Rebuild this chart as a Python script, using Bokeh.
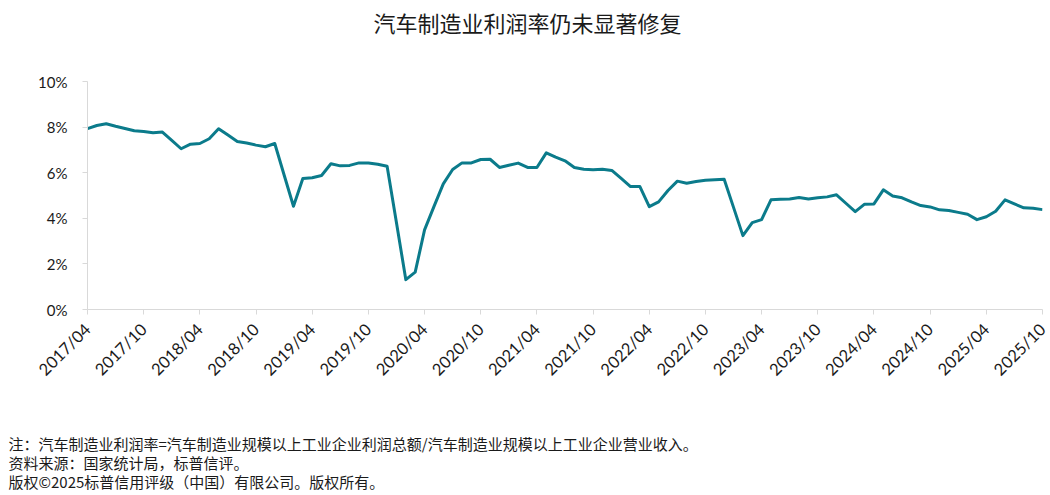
import math
from bokeh.plotting import figure
from bokeh.models import Title, FixedTicker, Range1d
from bokeh.embed import file_html
from bokeh.resources import INLINE

start_year, start_month = 2017, 4
profit_margin = [
    7.93, 8.07, 8.15, 8.04, 7.94, 7.84, 7.81, 7.75, 7.78, 7.42,
    7.05, 7.25, 7.28, 7.49, 7.93, 7.65, 7.37, 7.30, 7.21, 7.14,
    7.28, 5.90, 4.53, 5.75, 5.78, 5.88, 6.39, 6.30, 6.32, 6.43,
    6.43, 6.37, 6.28, 3.80, 1.31, 1.64, 3.49, 4.51, 5.51, 6.14,
    6.43, 6.43, 6.58, 6.59, 6.23, 6.33, 6.42, 6.23, 6.23, 6.87,
    6.68, 6.52, 6.23, 6.15, 6.13, 6.15, 6.10, 5.75, 5.39, 5.39,
    4.51, 4.72, 5.22, 5.63, 5.54, 5.61, 5.67, 5.69, 5.71, 4.48,
    3.24, 3.81, 3.94, 4.81, 4.84, 4.85, 4.91, 4.85, 4.90, 4.94,
    5.03, 4.66, 4.29, 4.62, 4.63, 5.25, 4.98, 4.90, 4.72, 4.56,
    4.50, 4.37, 4.34, 4.26, 4.18, 3.94, 4.07, 4.31, 4.81, 4.63,
    4.46, 4.44, 4.38,
]
month_labels = []
for i in range(len(profit_margin)):
    m = start_month - 1 + i
    month_labels.append(f"{start_year + m // 12}/{m % 12 + 1:02d}")
y_ticks = [0, 2, 4, 6, 8, 10]

title_text = "汽车制造业利润率仍未显著修复"
notes = [
    "注：汽车制造业利润率=汽车制造业规模以上工业企业利润总额/汽车制造业规模以上工业企业营业收入。",
    "资料来源：国家统计局，标普信评。",
    "版权©2025标普信用评级（中国）有限公司。版权所有。",
]

x = list(range(len(profit_margin)))
W, H = 1050, 495

p = figure(width=W, height=H, output_backend="svg", toolbar_location=None,
           x_range=Range1d(0, len(profit_margin) - 1), y_range=Range1d(0, 10),
           min_border_left=87, min_border_right=8, min_border_top=81,
           min_border_bottom=186)
p.outline_line_color = None
p.xgrid.grid_line_color = None
p.ygrid.grid_line_color = None
p.background_fill_color = "white"
p.border_fill_color = "white"

p.line(x, profit_margin, line_color="#0b7b8b", line_width=3, line_join="round")

tick_idx = list(range(0, len(profit_margin), 6))
p.xaxis.ticker = FixedTicker(ticks=tick_idx)
p.xaxis.major_label_overrides = {i: month_labels[i] for i in tick_idx}
p.xaxis.major_label_orientation = math.pi / 4
p.yaxis.ticker = FixedTicker(ticks=y_ticks)
p.yaxis.major_label_overrides = {v: f"{v}%" for v in y_ticks}

for ax in (p.xaxis[0], p.yaxis[0]):
    ax.axis_line_color = "#d9d9d9"
    ax.axis_line_width = 1
    ax.major_tick_line_color = "#d9d9d9"
    ax.major_tick_in = 0
    ax.major_tick_out = 5
    ax.minor_tick_line_color = None
    ax.major_label_text_font = "Lato"
    ax.major_label_text_color = "#1a1a1a"
p.yaxis.major_label_text_font_size = "15px"
p.xaxis.major_label_text_font_size = "16.5px"
p.yaxis.major_label_standoff = 15
p.xaxis.major_label_standoff = 12

# spacer between the frame and the chart title
p.add_layout(Title(text=" ", text_font_size="1px", standoff=41), "above")
p.title.text = title_text
p.title.align = "left"
p.title.offset = 286
p.title.standoff = 0
p.title.text_font = "Noto Sans CJK SC"
p.title.text_font_size = "22px"
p.title.text_font_style = "normal"
p.title.text_color = "#1a1a1a"

# spacer between the x axis and the notes
p.add_layout(Title(text=" ", text_font_size="1px", standoff=40), "below")
for t in notes:
    p.add_layout(Title(text=t, align="left", offset=-79, standoff=-4.5,
                       text_font="Noto Sans CJK SC", text_font_size="15px",
                       text_font_style="normal", text_color="#1a1a1a"), "below")

open("out.html", "w").write(file_html(p, INLINE))
